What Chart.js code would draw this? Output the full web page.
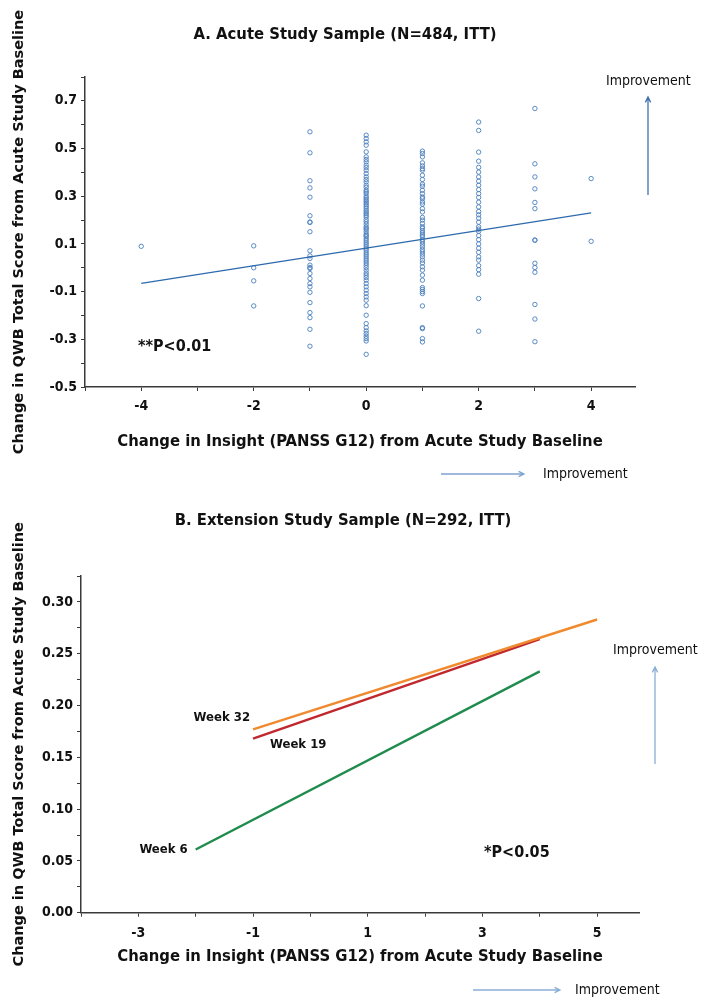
<!DOCTYPE html>
<html>
<head>
<meta charset="utf-8">
<script src="https://cdn.jsdelivr.net/npm/chart.js@4.4.1/dist/chart.umd.min.js"></script>
<style>
body { margin:0; background:#fff; width:721px; height:1002px; overflow:hidden; }
#boxA { position:absolute; left:0; top:0; width:721px; height:490px; }
#boxB { position:absolute; left:0; top:490px; width:721px; height:512px; }
</style>
</head>
<body>
<div id="boxA"><canvas id="chartA" width="721" height="490"></canvas></div>
<div id="boxB"><canvas id="chartB" width="721" height="512"></canvas></div>
<script>
// ---------------------------------------------------------------
// panel A : QWB change by insight change (one list per insight value)
const insightLevels = [-4, -2, -1, 0, 1, 2, 3, 4]
const qwbAtM4 = [0.090]
const qwbAtM2 = [0.092, 0.000, -0.055, -0.160]
const qwbAtM1 = [0.570, 0.482, 0.365, 0.335, 0.296, 0.218, 0.192, 0.190, 0.151, 0.071, 0.050, 0.039,
	0.011, 0.001, -0.003, -0.024, -0.045, -0.066, -0.080, -0.103, -0.146, -0.188, -0.209, -0.258, -0.329]
const qwbAt0 = [0.556, 0.542, 0.528, 0.514, 0.486, 0.465, 0.454, 0.444, 0.430, 0.420, 0.409, 0.395,
	0.381, 0.370, 0.360, 0.346, 0.337, 0.325, 0.318, 0.311, 0.300, 0.293, 0.286, 0.279, 0.272, 0.265,
	0.258, 0.250, 0.241, 0.234, 0.227, 0.220, 0.213, 0.202, 0.193, 0.183, 0.172, 0.166, 0.160, 0.151,
	0.141, 0.135, 0.130, 0.121, 0.113, 0.104, 0.096, 0.088, 0.079, 0.071, 0.062, 0.054, 0.046, 0.037,
	0.029, 0.020, 0.011, 0.001, -0.010, -0.022, -0.031, -0.041, -0.052, -0.066, -0.080, -0.094, -0.108,
	-0.122, -0.136, -0.159, -0.199, -0.234, -0.251, -0.265, -0.276, -0.287, -0.297, -0.307, -0.363]
const qwbAt1 = [0.489, 0.479, 0.465, 0.440, 0.427, 0.416, 0.409, 0.388, 0.370, 0.351, 0.342, 0.325,
	0.311, 0.297, 0.290, 0.276, 0.267, 0.248, 0.234, 0.211, 0.200, 0.186, 0.172, 0.165, 0.155, 0.146,
	0.137, 0.130, 0.118, 0.109, 0.099, 0.088, 0.076, 0.067, 0.057, 0.046, 0.032, 0.020, 0.004, -0.010,
	-0.031, -0.052, -0.083, -0.091, -0.100, -0.108, -0.160, -0.251, -0.255, -0.297, -0.311]
const qwbAt2 = [0.611, 0.576, 0.485, 0.447, 0.421, 0.401, 0.381, 0.363, 0.346, 0.328, 0.311, 0.295,
	0.275, 0.255, 0.236, 0.222, 0.208, 0.191, 0.172, 0.162, 0.153, 0.135, 0.118, 0.100, 0.082, 0.065,
	0.046, 0.032, 0.009, -0.008, -0.027, -0.129, -0.266]
const qwbAt3 = [0.668, 0.436, 0.381, 0.331, 0.274, 0.248, 0.116, 0.116, 0.019, 0.001, -0.019, -0.154,
	-0.215, -0.310]
const qwbAt4 = [0.374, 0.111]
const fitX = [-4, 4]
const fitY = [-0.065, 0.230]

// panel B : fitted lines by week
const week6X = [-2, 4]
const week6Y = [0.061, 0.233]
const week19X = [-1, 4]
const week19Y = [0.168, 0.264]
const week32X = [-1, 5]
const week32Y = [0.177, 0.283]

// ---------------------------------------------------------------
const NARROW = "'Liberation Sans Narrow', 'DejaVu Sans Condensed', 'Arial Narrow', sans-serif"
const WIDE = "'DejaVu Sans', Verdana, sans-serif"
const AXIS_COLOR = '#3a3a3a'

function pairs(xs, ys)
{
	var out = []
	for (var it = 0; it < xs.length; it += 1)
		out.push({x: xs[it], y: ys[it]})
	return out
}

function scatter_points()
{
	const columns = [qwbAtM4, qwbAtM2, qwbAtM1, qwbAt0, qwbAt1, qwbAt2, qwbAt3, qwbAt4]
	var out = []
	for (var it = 0; it < insightLevels.length; it += 1)
		columns[it].forEach(function (v) { out.push({x: insightLevels[it], y: v}) })
	return out
}

function arrow(ctx, x0, y0, x1, y1, color)
{
	const ang = Math.atan2(y1 - y0, x1 - x0)
	ctx.save()
	ctx.strokeStyle = color
	ctx.lineWidth = 1.3
	ctx.beginPath()
	ctx.moveTo(x0, y0)
	ctx.lineTo(x1, y1)
	ctx.moveTo(x1 - 6 * Math.cos(ang - 0.45), y1 - 6 * Math.sin(ang - 0.45))
	ctx.lineTo(x1, y1)
	ctx.lineTo(x1 - 6 * Math.cos(ang + 0.45), y1 - 6 * Math.sin(ang + 0.45))
	ctx.stroke()
	ctx.restore()
}

function text(ctx, str, x, y, font, align)
{
	ctx.save()
	ctx.font = font
	ctx.fillStyle = '#111'
	ctx.textAlign = align || 'left'
	ctx.textBaseline = 'middle'
	ctx.fillText(str, x, y)
	ctx.restore()
}

function axis_common(extra)
{
	const base = {
		type: 'linear',
		grid: { drawOnChartArea: false, drawTicks: true, tickLength: 4, color: AXIS_COLOR, lineWidth: 1 },
		border: { display: true, color: AXIS_COLOR, width: 1.5 },
		}
	return Object.assign(base, extra)
}

// ---------------------------------------------------------------
const notesA = {
	id: 'notesA',
	afterDraw: function (chart)
		{
		const ctx = chart.ctx
		text(ctx, 'A. Acute Study Sample (N=484, ITT)', 345, 35, 'bold 16.5px ' + NARROW, 'center')
		text(ctx, '**P<0.01', 138, 347, 'bold 16px ' + NARROW)
		text(ctx, 'Improvement', 606, 81, '14px ' + NARROW)
		arrow(ctx, 648, 195, 648, 97, '#3f70ad')
		arrow(ctx, 441, 474, 524, 474, '#7fa3cf')
		text(ctx, 'Improvement', 543, 474, '14px ' + NARROW)
		}
	}

const notesB = {
	id: 'notesB',
	afterDraw: function (chart)
		{
		const ctx = chart.ctx
		const sx = chart.scales.x
		const sy = chart.scales.y
		text(ctx, 'B. Extension Study Sample (N=292, ITT)', 343, 31, 'bold 16.5px ' + NARROW, 'center')
		const f = 'bold 13px ' + NARROW
		text(ctx, 'Week 32', sx.getPixelForValue(week32X[0]) - 3, sy.getPixelForValue(week32Y[0]) - 12, f, 'right')
		text(ctx, 'Week 19', sx.getPixelForValue(week19X[0]) + 17, sy.getPixelForValue(week19Y[0]) + 6, f, 'left')
		text(ctx, 'Week 6', sx.getPixelForValue(week6X[0]) - 8, sy.getPixelForValue(week6Y[0]), f, 'right')
		text(ctx, '*P<0.05', 484, 363, 'bold 16px ' + NARROW)
		text(ctx, 'Improvement', 613, 160, '14px ' + NARROW)
		arrow(ctx, 655, 274, 655, 177, '#8aaed6')
		arrow(ctx, 473, 500, 560, 500, '#8aaed6')
		text(ctx, 'Improvement', 575, 500, '14px ' + NARROW)
		}
	}

// ---------------------------------------------------------------
function prog_a()
{
	const tickFont = { family: NARROW, size: 14, weight: 'bold' }
	const config = {
		type: 'scatter',
		data: {
			datasets: [
				{ data: pairs(fitX, fitY), type: 'line', showLine: true, pointRadius: 0,
					borderColor: '#2d6aad', borderWidth: 1.3, order: 0 },
				{ data: scatter_points(), pointRadius: 2.2, pointBorderWidth: 0.9,
					borderColor: '#4a7fbd', backgroundColor: 'rgba(0,0,0,0)', order: 1 },
				]
			},
		plugins: [notesA],
		options: {
			responsive: false,
			animation: false,
			layout: { padding: { top: 77, right: 86, left: 0, bottom: 0 } },
			plugins: { legend: { display: false }, tooltip: { enabled: false } },
			scales: {
				x: axis_common({
					min: -5, max: 4.78,
					afterFit: function (s) { s.height = 103 },
					ticks: { stepSize: 1, includeBounds: false, padding: 7, color: '#111', font: tickFont,
						maxRotation: 0, autoSkip: false,
						callback: function (v) { const n = Math.round(v); return n % 2 === 0 ? String(n) : '' } },
					title: { display: true, text: 'Change in Insight (PANSS G12) from Acute Study Baseline',
						color: '#111', font: { family: NARROW, size: 16.5, weight: 'bold' },
						padding: { top: 0, bottom: 38 } },
					}),
				y: axis_common({
					min: -0.5, max: 0.8,
					afterFit: function (s) { s.width = 85 },
					ticks: { stepSize: 0.1, includeBounds: false, padding: 4, color: '#111', font: tickFont,
						autoSkip: false,
						callback: function (v) { const n = Math.round(v * 10); return Math.abs(n) % 2 === 1 ? (n / 10).toFixed(1) : '' } },
					title: { display: true, text: 'Change in QWB Total Score from Acute Study Baseline',
						color: '#111', font: { family: WIDE, size: 14.5, weight: 'bold' },
						padding: { top: 11, bottom: 0 } },
					}),
				}
			}
		}
	new Chart(document.getElementById('chartA'), config)
}

function prog_b()
{
	const tickFont = { family: NARROW, size: 14, weight: 'bold' }
	const line = function (xs, ys, color, order)
		{
		return { data: pairs(xs, ys), type: 'line', showLine: true, pointRadius: 0,
			borderColor: color, borderWidth: 2.4, order: order }
		}
	const config = {
		type: 'scatter',
		data: {
			datasets: [
				line(week6X, week6Y, '#1f8b4c', 3),
				line(week19X, week19Y, '#c0282e', 2),
				line(week32X, week32Y, '#ef8a2f', 1),
				]
			},
		plugins: [notesB],
		options: {
			responsive: false,
			animation: false,
			layout: { padding: { top: 86, right: 82, left: 0, bottom: 0 } },
			plugins: { legend: { display: false }, tooltip: { enabled: false } },
			scales: {
				x: axis_common({
					min: -4, max: 5.73,
					afterFit: function (s) { s.height = 89.3 },
					ticks: { stepSize: 1, includeBounds: false, padding: 8, color: '#111', font: tickFont,
						maxRotation: 0, autoSkip: false,
						callback: function (v) { const n = Math.round(v); return Math.abs(n) % 2 === 1 ? String(n) : '' } },
					title: { display: true, text: 'Change in Insight (PANSS G12) from Acute Study Baseline',
						color: '#111', font: { family: NARROW, size: 16.5, weight: 'bold' },
						padding: { top: 0, bottom: 35 } },
					}),
				y: axis_common({
					min: 0, max: 0.325,
					afterFit: function (s) { s.width = 81 },
					ticks: { stepSize: 0.025, includeBounds: false, padding: 4, color: '#111', font: tickFont,
						autoSkip: false,
						callback: function (v) { const n = Math.round(v * 40); return n % 2 === 0 ? (n / 40).toFixed(2) : '' } },
					title: { display: true, text: 'Change in QWB Total Score from Acute Study Baseline',
						color: '#111', font: { family: WIDE, size: 14.5, weight: 'bold' },
						padding: { top: 11, bottom: 0 } },
					}),
				}
			}
		}
	new Chart(document.getElementById('chartB'), config)
}

prog_a()
prog_b()
</script>
</body>
</html>
